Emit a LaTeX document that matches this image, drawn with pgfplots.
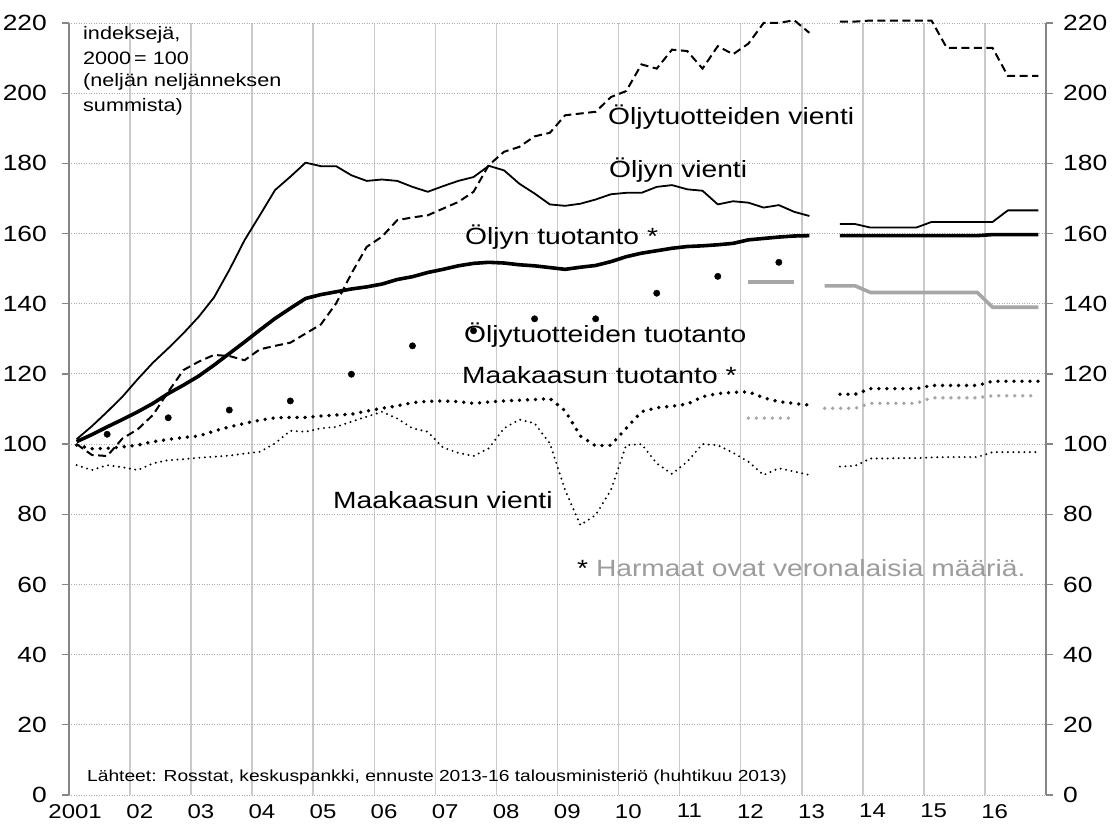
\documentclass[border=0pt]{standalone}
\usepackage{fontspec}
\setmainfont{Liberation Sans}[FakeStretch=1.2]
\usepackage{pgfplots}
\usepackage{pgfplotstable}
\pgfplotsset{compat=1.18}
\definecolor{gridv}{HTML}{CACACA}
\definecolor{gridh}{HTML}{ABABAB}
\definecolor{axgray}{HTML}{868686}
\definecolor{sergray}{HTML}{A6A6A6}
\definecolor{txtgray}{HTML}{9C9C9C}
\newcommand{\fs}[2]{\fontsize{#1}{#2}\selectfont}

% quarterly history: oil exports, oil-product exports, oil production, gas production, gas exports
\pgfplotstableread{
x ov otv ot mt mv
2001.125 101.4 100.0 100.7 99.7 94.0
2001.375 105.1 96.9 102.7 98.7 92.6
2001.625 109.2 96.6 104.9 98.8 94.0
2001.875 113.5 101.6 107.0 99.2 93.4
2002.125 118.5 104.2 109.2 99.7 92.6
2002.375 123.2 108.3 111.6 100.7 94.5
2002.625 127.3 114.9 114.4 101.3 95.4
2002.875 131.6 121.1 116.8 101.9 95.7
2003.125 136.3 123.5 119.4 102.3 96.1
2003.375 141.8 125.4 122.5 103.7 96.4
2003.625 149.6 125.1 125.8 104.9 96.7
2003.875 158.1 123.9 129.1 105.9 97.3
2004.125 165.2 127.0 132.5 106.8 97.8
2004.375 172.4 128.0 135.8 107.5 100.2
2004.625 176.2 128.9 138.7 107.6 103.8
2004.875 180.2 131.5 141.5 107.6 103.5
2005.125 179.2 134.1 142.6 108.0 104.5
2005.375 179.2 140.1 143.4 108.3 104.9
2005.625 176.6 148.6 144.2 108.5 106.4
2005.875 175.0 156.2 144.8 109.4 107.8
2006.125 175.4 159.1 145.6 110.2 109.2
2006.375 175.0 163.8 146.9 110.9 107.3
2006.625 173.3 164.6 147.7 111.8 104.5
2006.875 171.9 165.2 148.9 112.2 103.5
2007.125 173.5 167.1 149.8 112.3 99.0
2007.375 175.0 169.0 150.8 112.1 97.5
2007.625 176.1 171.9 151.5 111.6 96.6
2007.875 179.3 179.5 151.8 112.0 98.8
2008.125 178.0 183.3 151.6 112.3 104.5
2008.375 174.2 184.7 151.1 112.5 107.0
2008.625 171.4 187.7 150.8 112.7 105.9
2008.875 168.3 188.7 150.3 113.0 100.2
2009.125 167.9 193.7 149.8 109.5 86.9
2009.375 168.5 194.2 150.4 102.3 76.9
2009.625 169.7 194.7 150.9 99.5 79.8
2009.875 171.2 198.9 152.0 99.7 86.9
2010.125 171.6 200.6 153.4 104.5 99.7
2010.375 171.6 208.2 154.4 109.2 100.0
2010.625 173.3 207.0 155.1 110.4 94.5
2010.875 173.8 212.4 155.8 110.8 91.5
2011.125 172.6 212.0 156.3 111.4 95.0
2011.375 172.2 207.0 156.5 113.5 100.0
2011.625 168.3 213.4 156.8 114.4 99.7
2011.875 169.2 211.1 157.2 114.7 97.5
2012.125 168.8 214.1 158.2 114.9 95.0
2012.375 167.4 220.0 158.6 113.2 91.2
2012.625 168.1 220.0 159.0 112.1 93.1
2012.875 166.2 220.8 159.3 111.6 92.2
2013.125 165.0 217.2 159.4 111.1 91.2
}\hist

% forecast 2013Q3-2016Q4
\pgfplotstableread{
x ov otv ot mt mv
2013.625 162.7 220.4 159.4 114.2 93.6
2013.875 162.7 220.4 159.4 114.2 93.8
2014.125 161.7 220.7 159.4 115.8 95.9
2014.375 161.7 220.7 159.4 115.8 95.9
2014.625 161.7 220.7 159.4 115.8 96.0
2014.875 161.7 220.7 159.4 115.8 96.0
2015.125 163.3 220.7 159.4 116.7 96.2
2015.375 163.3 212.9 159.4 116.7 96.3
2015.625 163.3 212.9 159.4 116.7 96.3
2015.875 163.3 212.9 159.4 116.7 96.3
2016.125 163.3 212.9 159.7 117.9 97.7
2016.375 166.6 204.9 159.7 117.9 97.7
2016.625 166.6 204.9 159.7 117.9 97.7
2016.875 166.6 204.9 159.7 117.9 97.7
}\fcst

% taxable amounts (grey): oil products production, gas production
\pgfplotstableread{
x gt gd
2012.125 146.2 107.4
2012.375 146.2 107.4
2012.625 146.2 107.4
2012.875 146.2 107.4
}\greyA

\pgfplotstableread{
x gt gd
2013.375 145.1 110.2
2013.625 145.1 110.2
2013.875 145.1 110.2
2014.125 143.2 111.6
2014.375 143.2 111.6
2014.625 143.2 111.6
2014.875 143.2 111.6
2015.125 143.2 113.2
2015.375 143.2 113.2
2015.625 143.2 113.2
2015.875 143.2 113.2
2016.125 139.0 113.8
2016.375 139.0 113.8
2016.625 139.0 113.8
2016.875 139.0 113.8
}\greyB

% oil products production (annual)
\pgfplotstableread{
x y
2001.625 102.8
2002.625 107.5
2003.625 109.7
2004.625 112.3
2005.625 119.9
2006.625 128.0
2007.625 132.3
2008.625 135.7
2009.625 135.7
2010.625 143.0
2011.625 147.8
2012.625 151.8
}\dots

\begin{document}
\begin{tikzpicture}
\useasboundingbox (-69pt,-30pt) rectangle (1043pt,795pt);
\begin{axis}[
  at={(0pt,0pt)}, anchor=south west, scale only axis,
  width=977pt, height=772pt,
  xmin=2001, xmax=2017, ymin=0, ymax=220,
  clip=false,
  separate axis lines,
  x axis line style={draw=none},
  y axis line style={draw=axgray, line width=1.3pt},
  /pgf/number format/assume math mode=true,
  ytick={0,20,...,220},
  tick align=outside,
  major tick length=7pt,
  ytick style={axgray, line width=1.3pt},
  yticklabel style={font=\fs{22}{22}, inner sep=0pt, xshift=-15pt},
  ymajorgrids,
  major y grid style={gridh, line width=0.9pt, dash pattern=on 1pt off 1.5pt},
  extra y ticks={100},
  extra y tick labels={},
  extra y tick style={grid=major, major grid style={solid, axgray, line width=1.3pt}},
  xtick={2001.1,2002.16,2003.16,2004.16,2005.16,2006.16,2007.16,2008.16,2009.16,2010.16,2011.16,2012.16,2013.16,2014.16,2015.16,2016.16},
  xticklabels={2001,02,03,04,05,06,07,08,09,10,11,12,13,14,15,16},
  xtick style={draw=none},
  xticklabel style={font=\fs{20}{20}, inner sep=0pt, yshift=-2pt},
  minor xtick={2002,2003,2004,2005,2006,2007,2008,2009,2010,2011,2012,2013,2014,2015,2016},
  minor tick length=0pt,
  xminorgrids,
  minor x grid style={gridv, line width=1.6pt},
]
% grey taxable series
\addplot[sergray, line width=3.6pt, no marks] table[x=x, y=gt] {\greyA};
\addplot[sergray, line width=3.6pt, no marks] table[x=x, y=gt] {\greyB};
\addplot[sergray, line width=3.8pt, line cap=round, dash pattern=on 0pt off 8pt, no marks] table[x=x, y=gd] {\greyA};
\addplot[sergray, line width=3.8pt, line cap=round, dash pattern=on 0pt off 8pt, no marks] table[x=x, y=gd] {\greyB};
% gas exports
\addplot[black, line width=2.2pt, line cap=round, dash pattern=on 0pt off 5.5pt, no marks] table[x=x, y=mv] {\hist};
\addplot[black, line width=2.2pt, line cap=round, dash pattern=on 0pt off 5.5pt, no marks] table[x=x, y=mv] {\fcst};
% gas production
\addplot[black, line width=3.8pt, line cap=round, dash pattern=on 0pt off 8pt, no marks] table[x=x, y=mt] {\hist};
\addplot[black, line width=3.8pt, line cap=round, dash pattern=on 0pt off 8pt, no marks] table[x=x, y=mt] {\fcst};
% oil products production
\addplot[only marks, mark=*, mark size=3.2pt, black] table[x=x, y=y] {\dots};
% oil products exports
\addplot[black, line width=2pt, dash pattern=on 8pt off 4.5pt, no marks] table[x=x, y=otv] {\hist};
\addplot[black, line width=2pt, dash pattern=on 8pt off 4.5pt, no marks] table[x=x, y=otv] {\fcst};
% oil production
\addplot[black, line width=3.6pt, line join=round, no marks] table[x=x, y=ot] {\hist};
\addplot[black, line width=3.6pt, line join=round, no marks] table[x=x, y=ot] {\fcst};
% oil exports
\addplot[black, line width=1.8pt, line join=round, no marks] table[x=x, y=ov] {\hist};
\addplot[black, line width=1.8pt, line join=round, no marks] table[x=x, y=ov] {\fcst};
\end{axis}
\begin{axis}[
  at={(0pt,0pt)}, anchor=south west, scale only axis,
  width=977pt, height=772pt,
  xmin=2001, xmax=2017, ymin=0, ymax=220,
  axis line style={draw=none},
  xtick=\empty,
  ytick={0,20,...,220},
  yticklabel pos=right,
  ytick style={draw=none},
  /pgf/number format/assume math mode=true,
  yticklabel style={font=\fs{22}{22}, inner sep=0pt, xshift=17pt},
]
\end{axis}
% annotations
\begin{scope}[every node/.style={inner sep=0pt, anchor=west}]
\node[font=\fs{18}{18}] at (14pt,760pt) {indeksejä,};
\node[font=\fs{18}{18}] at (14pt,737pt) {2000\,= 100};
\node[font=\fs{18}{18}] at (14pt,713pt) {(neljän neljänneksen};
\node[font=\fs{18}{18}] at (14pt,688pt) {summista)};
\node[font=\fs{23.5}{23.5}] at (539pt,678pt) {Öljytuotteiden vienti};
\node[font=\fs{23.5}{23.5}] at (540pt,625pt) {Öljyn vienti};
\node[font=\fs{23.5}{23.5}] at (396pt,558pt) {Öljyn tuotanto *};
\node[font=\fs{23.5}{23.5}] at (395pt,460pt) {Öljytuotteiden tuotanto};
\node[font=\fs{23.5}{23.5}] at (393pt,420pt) {Maakaasun tuotanto *};
\node[font=\fs{23.5}{23.5}] at (264pt,295pt) {Maakaasun vienti};
\node[font=\fs{23.5}{23.5}] at (508pt,227pt) {* \textcolor{txtgray}{Harmaat ovat veronalaisia määriä.}};
\node[font=\fs{16}{16}] at (18pt,18pt) {Lähteet: Rosstat, keskuspankki, ennuste 2013-16 talousministeriö (huhtikuu 2013)};
\end{scope}
\end{tikzpicture}
\end{document}
